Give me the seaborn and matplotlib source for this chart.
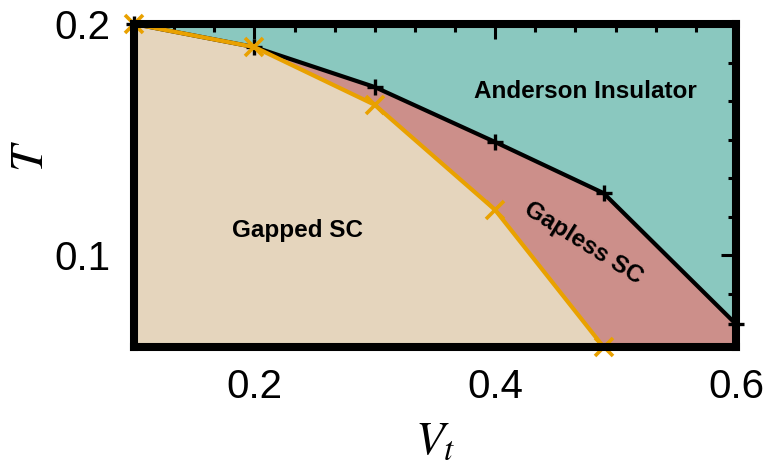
import numpy as np
import pandas as pd
import matplotlib
matplotlib.use("Agg")
import matplotlib.pyplot as plt
from matplotlib.ticker import MultipleLocator
import seaborn as sns

# Phase boundaries in the (V_t, T) plane
vt_anderson = [0.1, 0.2, 0.3, 0.4, 0.49, 0.6]
t_anderson = [0.200, 0.190, 0.1727, 0.1489, 0.1268, 0.0701]

vt_gapless = [0.1, 0.2, 0.3, 0.4, 0.49]
t_gapless = [0.200, 0.190, 0.165, 0.1195, 0.0602]

x_ticks = [0.2, 0.4, 0.6]
y_ticks = [0.1, 0.2]
x_lim = (0.1, 0.6)
y_lim = (0.0602, 0.2)

region_labels = ["Anderson Insulator", "Gapped SC", "Gapless SC"]

teal = "#8AC8BF"
pink = "#CC8F8A"
tan = "#E5D5BD"
orange = "#E9A100"

sns.set_theme(style="ticks")
plt.rcParams["font.family"] = ["Liberation Sans", "DejaVu Sans"]
plt.rcParams["mathtext.fontset"] = "stix"
plt.rcParams["text.color"] = "black"
plt.rcParams["axes.labelcolor"] = "black"
plt.rcParams["xtick.color"] = "black"
plt.rcParams["ytick.color"] = "black"

fig = plt.figure(figsize=(7.73, 4.66), dpi=100)
ax = fig.add_axes([0.1734, 0.2554, 0.7787, 0.6931])

ax.set_facecolor(teal)
ax.fill_between(vt_anderson, t_anderson, y_lim[0], color=pink, lw=0, zorder=1)
ax.fill_between(vt_gapless, t_gapless, y_lim[0], color=tan, lw=0, zorder=1.5)

df_a = pd.DataFrame({"Vt": vt_anderson, "T": t_anderson})
df_g = pd.DataFrame({"Vt": vt_gapless, "T": t_gapless})

sns.lineplot(data=df_a, x="Vt", y="T", ax=ax, color="black", lw=3,
             marker="+", markersize=12, markeredgewidth=2.4,
             markeredgecolor="black", zorder=3, clip_on=False)
sns.lineplot(data=df_g, x="Vt", y="T", ax=ax, color=orange, lw=3,
             marker="x", markersize=13, markeredgewidth=2.6,
             markeredgecolor=orange, zorder=4, clip_on=False)

ax.set_xlim(*x_lim)
ax.set_ylim(*y_lim)
ax.set_xticks(x_ticks)
ax.set_yticks(y_ticks)
ax.set_xticklabels([f"{v:.1f}" for v in x_ticks])
ax.set_yticklabels([f"{v:.1f}" for v in y_ticks])
ax.xaxis.set_minor_locator(MultipleLocator(0.2 / 6))
ax.yaxis.set_minor_locator(MultipleLocator(0.1 / 6))

for side in ["left", "right", "top", "bottom"]:
    ax.spines[side].set_visible(True)
    ax.spines[side].set_linewidth(5.8)
    ax.spines[side].set_color("black")
    ax.spines[side].set_zorder(5)

ax.tick_params(which="both", direction="in", top=True, right=True,
               color="black", labelcolor="black", width=2.2, labelsize=29)
ax.tick_params(which="major", length=11)
ax.tick_params(which="minor", length=6)
ax.tick_params(axis="x", which="major", pad=15)
ax.tick_params(axis="y", which="major", pad=17)

ax.set_xlabel("$V_t$", fontsize=34, labelpad=0, color="black")
ax.set_ylabel("$T$", fontsize=34, labelpad=0, color="black")
ax.xaxis.set_label_coords(0.5, -0.225)
ax.yaxis.set_label_coords(-0.135, 0.59)

ax.text(0.4747, 0.1706, region_labels[0], fontsize=17.5, fontweight="bold",
        color="black", ha="center", va="center", zorder=6)
ax.text(0.2357, 0.1108, region_labels[1], fontsize=17.5, fontweight="bold",
        color="black", ha="center", va="center", zorder=6)
ax.text(0.4730, 0.1052, region_labels[2], fontsize=17.5, fontweight="bold",
        color="black", ha="center", va="center", rotation=-32,
        rotation_mode="anchor", zorder=6)

fig.savefig("out.png", dpi=100)
